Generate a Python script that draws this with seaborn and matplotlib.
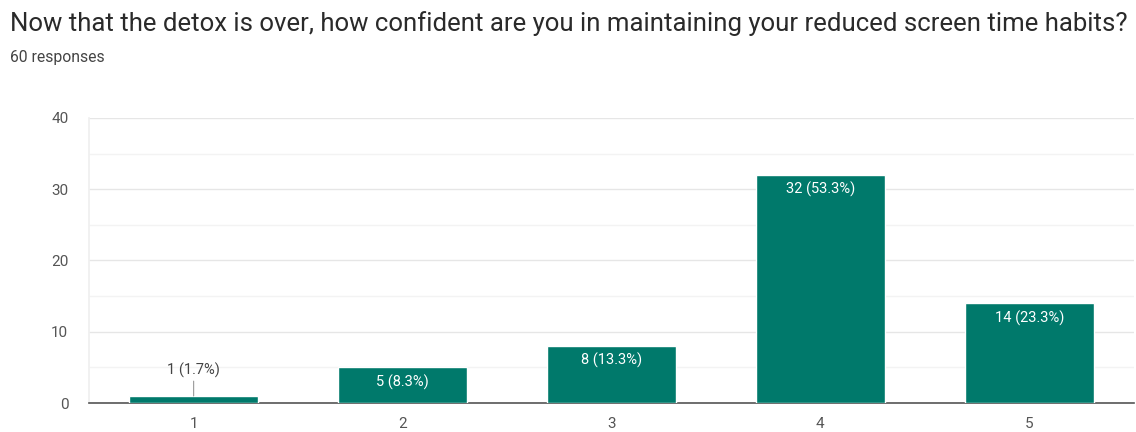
import matplotlib
matplotlib.use("Agg")
import matplotlib.pyplot as plt
import seaborn as sns
import pandas as pd

categories = ["1", "2", "3", "4", "5"]
counts = [1, 5, 8, 32, 14]
pct_labels = ["1 (1.7%)", "5 (8.3%)", "8 (13.3%)", "32 (53.3%)", "14 (23.3%)"]
y_ticks = [0, 10, 20, 30, 40]

title = "Now that the detox is over, how confident are you in maintaining your reduced screen time habits?"
subtitle = "60 responses"

sns.set_theme(style="white")
plt.rcParams["font.family"] = ["Roboto", "DejaVu Sans"]

df = pd.DataFrame({"option": categories, "count": counts})

fig = plt.figure(figsize=(11.36, 4.32), dpi=100)
ax = fig.add_axes([0.0785, 0.067, 0.9195, 0.66])

bar_color = "#00796B"
sns.barplot(data=df, x="option", y="count", color=bar_color, width=0.62,
            saturation=1, ax=ax, zorder=3)

ax.set_ylim(0, 40)
ax.set_xlim(-0.5, 4.5)
ax.set_yticks(y_ticks)
ax.set_yticks([5, 15, 25, 35], minor=True)
ax.grid(axis="y", which="major", color="#e6e6e6", linewidth=1, zorder=0)
ax.grid(axis="y", which="minor", color="#f3f3f3", linewidth=1, zorder=0)
ax.set_xlabel("")
ax.set_ylabel("")
for s in ["top", "right"]:
    ax.spines[s].set_visible(False)
ax.spines["left"].set_color("#f0f0f0")
ax.spines["bottom"].set_color("#555555")
ax.spines["bottom"].set_linewidth(1.2)
ax.tick_params(axis="both", length=0, labelsize=11, colors="#555555")
ax.tick_params(axis="x", pad=10)
ax.tick_params(axis="y", pad=15)

for i, (v, lab) in enumerate(zip(counts, pct_labels)):
    if v < 3:
        ax.annotate(lab, xy=(i, v), xytext=(0, 13), textcoords="offset points",
                    ha="center", va="bottom", fontsize=10.5, color="#444444",
                    arrowprops=dict(arrowstyle="-", color="#999999", lw=0.8,
                                    shrinkA=0, shrinkB=0))
    else:
        ax.annotate(lab, xy=(i, v), xytext=(0, -5), textcoords="offset points",
                    ha="center", va="top", fontsize=10.5, color="white")

fig.text(0.009, 0.945, title, fontsize=18.5, color="#2a2a2a", ha="left", va="center")
fig.text(0.009, 0.868, subtitle, fontsize=11.3, color="#444444", ha="left", va="center")

fig.savefig("out.png", dpi=100, facecolor="white")
